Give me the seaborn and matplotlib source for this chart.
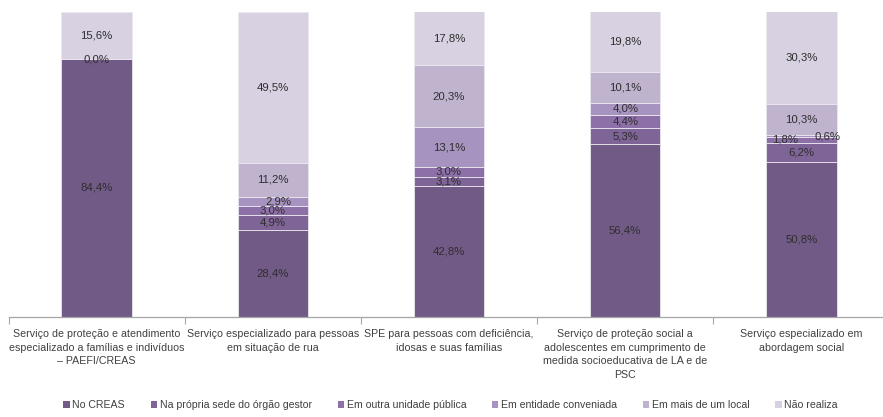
import numpy as np
import matplotlib
matplotlib.use("Agg")
import matplotlib.pyplot as plt
from matplotlib.patches import Rectangle
from matplotlib.ticker import FixedLocator
import seaborn as sns

sns.set_theme(style="white")
plt.rcParams["font.family"] = ["Liberation Sans", "DejaVu Sans"]

categories = [
    "Serviço de proteção e atendimento\nespecializado a famílias e indivíduos\n– PAEFI/CREAS",
    "Serviço especializado para pessoas\nem situação de rua",
    "SPE para pessoas com deficiência,\nidosas e suas famílias",
    "Serviço de proteção social a\nadolescentes em cumprimento de\nmedida socioeducativa de LA e de\nPSC",
    "Serviço especializado em\nabordagem social",
]

series_names = [
    "No CREAS",
    "Na própria sede do órgão gestor",
    "Em outra unidade pública",
    "Em entidade conveniada",
    "Em mais de um local",
    "Não realiza",
]

no_creas        = [84.4, 28.4, 42.8, 56.4, 50.8]
sede_gestor     = [np.nan, 4.9, 3.1, 5.3, 6.2]
outra_unidade   = [np.nan, 3.0, 3.0, 4.4, 1.8]
conveniada      = [np.nan, 2.9, 13.1, 4.0, 0.6]
mais_de_um      = [0.0, 11.2, 20.3, 10.1, 10.3]
nao_realiza     = [15.6, 49.5, 17.8, 19.8, 30.3]

series_values = [no_creas, sede_gestor, outra_unidade, conveniada, mais_de_um, nao_realiza]
colors = ["#725a87", "#7f6497", "#8e70a9", "#a793bf", "#bfb3ce", "#d8d1e1"]

# label nudges (in category units) for the thin segments
label_dx = {(2, 4): -0.09, (3, 4): 0.15, (3, 1): 0.03}

fig = plt.figure(figsize=(8.83, 4.17), dpi=100)
ax = fig.add_axes([8.5 / 883, 100.5 / 417, 881 / 883, 305 / 417])

x_idx = list(range(len(categories)))
bottoms = np.zeros(len(categories))
for s, (name, vals, col) in enumerate(zip(series_names, series_values, colors)):
    v = np.array(vals, dtype=float)
    heights = np.nan_to_num(v, nan=0.0)
    sns.barplot(x=x_idx, y=heights, bottom=bottoms, color=col, width=0.4,
                errorbar=None, ax=ax, edgecolor="#ebe7ef", linewidth=0.6,
                saturation=1)
    for i, val in enumerate(v):
        if np.isnan(val):
            continue
        cy = bottoms[i] + heights[i] / 2
        dx = label_dx.get((s, i), 0.0)
        ax.text(i + dx, cy, f"{val:.1f}%".replace(".", ","), ha="center",
                va="center", fontsize=8.2, color="#2e2e2e")
    bottoms = bottoms + heights

ax.set_xlim(-0.5, len(categories) - 0.5)
ax.set_ylim(0, 100)
ax.set_yticks([])
ax.set_xticks(x_idx)
ax.set_xticklabels(categories, fontsize=7.7, color="#404040", linespacing=1.45)
ax.xaxis.set_minor_locator(FixedLocator(np.arange(-0.5, len(categories))))
ax.tick_params(axis="x", which="major", length=0, pad=9)
ax.tick_params(axis="x", which="minor", length=5, width=0.8, color="#a6a6a6",
               direction="out", bottom=True)
for side in ["left", "right", "top"]:
    ax.spines[side].set_visible(False)
ax.spines["bottom"].set_color("#a6a6a6")
ax.spines["bottom"].set_linewidth(0.9)
ax.set_xlabel("")
ax.set_ylabel("")

handles = [Rectangle((0, 0), 1, 1, facecolor=c, edgecolor="none") for c in colors]
fig.legend(handles, series_names, loc="center", bbox_to_anchor=(450.5 / 883, 12 / 417),
           ncol=6, frameon=False, fontsize=7.6, handlelength=0.6, handleheight=0.6,
           handletextpad=0.25, columnspacing=2.45, labelcolor="#404040",
           borderpad=0.1)

fig.savefig("out.png", dpi=100)
